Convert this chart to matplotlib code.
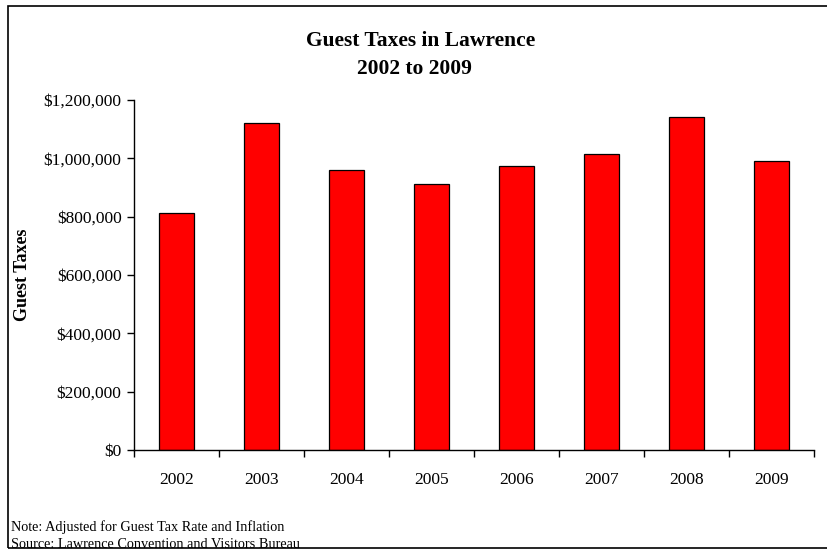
import matplotlib
matplotlib.use("Agg")
import matplotlib.pyplot as plt
from matplotlib.patches import Rectangle
from matplotlib.ticker import FuncFormatter, FixedLocator

plt.rcParams["font.family"] = ["Liberation Serif", "DejaVu Serif"]

years = ["2002", "2003", "2004", "2005", "2006", "2007", "2008", "2009"]
taxes = [813000, 1120000, 961000, 911000, 975000, 1014000, 1142000, 991000]
y_ticks = [0, 200000, 400000, 600000, 800000, 1000000, 1200000]

fig = plt.figure(figsize=(8.27, 5.5), dpi=100)
ax = fig.add_axes([134 / 827, 1 - 450 / 550, 680 / 827, 350 / 550])

x = range(len(years))
ax.bar(x, taxes, width=0.41, color="#ff0000", edgecolor="black", linewidth=0.9)

ax.set_xlim(-0.5, len(years) - 0.5)
ax.set_ylim(0, 1200000)
ax.set_yticks(y_ticks)
ax.yaxis.set_major_formatter(FuncFormatter(lambda v, p: f"${v:,.0f}"))
ax.set_xticks(list(x))
ax.set_xticklabels(years)
# ticks sit between the categories, like the original
ax.xaxis.set_minor_locator(FixedLocator([i - 0.5 for i in range(len(years) + 1)]))
ax.tick_params(axis="x", which="major", length=0, pad=16, labelsize=12.5)
ax.tick_params(axis="x", which="minor", length=5, width=1, direction="out")
ax.tick_params(axis="y", length=5, width=1, direction="out", pad=4, labelsize=12.5)

for s in ["top", "right"]:
    ax.spines[s].set_visible(False)
for s in ["left", "bottom"]:
    ax.spines[s].set_linewidth(1)

ax.set_ylabel("Guest Taxes", fontsize=13, fontweight="bold")
ax.yaxis.set_label_coords(-0.151, 0.5)

fig.text(421 / 827, 1 - 41 / 550, "Guest Taxes in Lawrence", ha="center", va="center",
         fontsize=15.5, fontweight="bold")
fig.text(414 / 827, 1 - 69 / 550, "2002 to 2009", ha="center", va="center",
         fontsize=15.5, fontweight="bold")

fig.text(11 / 827, 1 - 527 / 550, "Note: Adjusted for Guest Tax Rate and Inflation",
         ha="left", va="center", fontsize=10.3)
fig.text(11 / 827, 1 - 545 / 550, "Source: Lawrence Convention and Visitors Bureau",
         ha="left", va="center", fontsize=10.3)

# outer chart border
fig.patches.append(Rectangle((8 / 827, 2 / 550), 1.0, 542 / 550, transform=fig.transFigure,
                             fill=False, edgecolor="black", linewidth=1.2, clip_on=False))

fig.savefig("out.png", dpi=100, facecolor="white")
